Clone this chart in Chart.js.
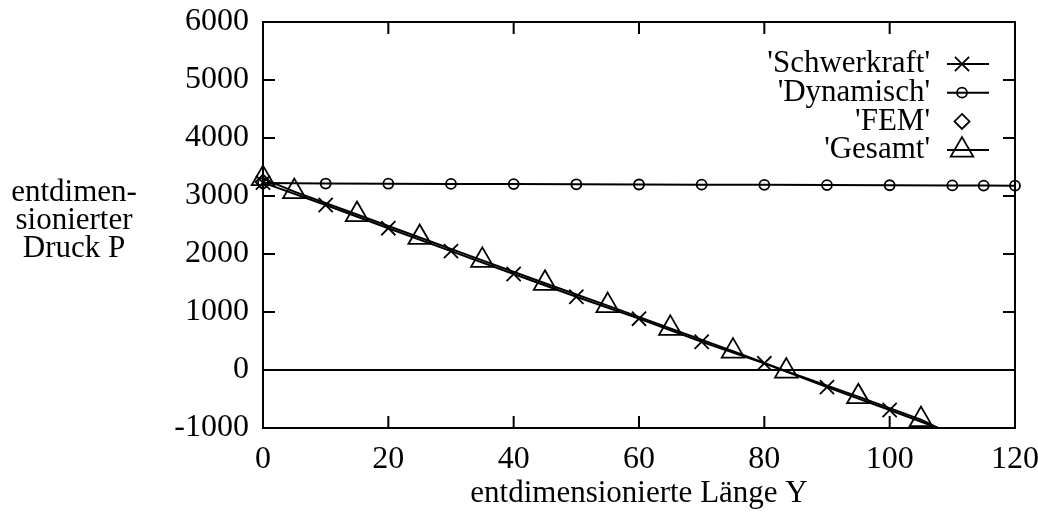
<!DOCTYPE html>
<html>
<head>
<meta charset="utf-8">
<script src="https://cdn.jsdelivr.net/npm/chart.js@4.4.1/dist/chart.umd.min.js"></script>
<style>
  html, body { margin: 0; padding: 0; background: #fff; }
  #wrap { width: 1038px; height: 518px; }
</style>
</head>
<body>
<div id="wrap"><canvas id="druck" width="1038" height="518"></canvas></div>
<script>
const serif = '"Liberation Serif", "DejaVu Serif", serif';

// axis ranges
const xRange = [0, 120];
const yRange = [-1000, 6000];
const xStep = 20;
const yStep = 1000;

// 'Schwerkraft' (last point = where the line leaves the frame)
const schwerX = [0, 10, 20, 30, 40, 50, 60, 70, 80, 90, 100, 107.7];
const schwerP = [3230, 2845, 2445, 2050, 1655, 1262, 885, 488, 115, -295, -690, -1000];

// 'Dynamisch'
const dynX = [0, 10, 20, 30, 40, 50, 60, 70, 80, 90, 100, 110, 115, 120];
const dynP = [3222, 3215, 3212, 3208, 3205, 3202, 3198, 3195, 3192, 3188, 3185, 3182, 3180, 3178];

// 'FEM'
const femX = [0];
const femP = [3240];

// 'Gesamt'
const gesX = [0, 5, 15, 25, 35, 45, 55, 65, 75, 83.5, 95, 105, 107.7];
const gesP = [3300, 3075, 2680, 2285, 1890, 1495, 1110, 718, 325, -20, -460, -855, -1000];

const yLabelLines = ['entdimen-', 'sionierter', 'Druck P'];
const xLabel = 'entdimensionierte Länge Y';

function pairs(xs, ys) {
  return xs.map((x, i) => ({ x: x, y: ys[i] }));
}

// no marker where a line only runs out to the frame edge
function radiusAbove(r) {
  return ctx => (ctx.raw && ctx.raw.y <= yRange[0]) ? 0 : r;
}

const series = [
  { label: "'Schwerkraft'", data: pairs(schwerX, schwerP), pointStyle: 'crossRot', pointRadius: radiusAbove(10), showLine: true },
  { label: "'Dynamisch'", data: pairs(dynX, dynP), pointStyle: 'circle', pointRadius: 5, showLine: true },
  { label: "'FEM'", data: pairs(femX, femP), pointStyle: 'rectRot', pointRadius: 7.5, showLine: false },
  { label: "'Gesamt'", data: pairs(gesX, gesP), pointStyle: 'triangle', pointRadius: radiusAbove(13), showLine: true }
];

// own marker drawing for the key
function drawMarker(ctx, style, r, x, y) {
  ctx.beginPath();
  if (style === 'crossRot') {
    const o = Math.SQRT1_2 * r;
    ctx.moveTo(x - o, y - o); ctx.lineTo(x + o, y + o);
    ctx.moveTo(x - o, y + o); ctx.lineTo(x + o, y - o);
  } else if (style === 'circle') {
    ctx.arc(x, y, r, 0, Math.PI * 2);
  } else if (style === 'rectRot') {
    ctx.moveTo(x, y - r); ctx.lineTo(x + r, y); ctx.lineTo(x, y + r); ctx.lineTo(x - r, y); ctx.closePath();
  } else if (style === 'triangle') {
    ctx.moveTo(x, y - r);
    ctx.lineTo(x + Math.sin(Math.PI * 2 / 3) * r, y + r / 2);
    ctx.lineTo(x - Math.sin(Math.PI * 2 / 3) * r, y + r / 2);
    ctx.closePath();
  }
  ctx.stroke();
}

// frame with inward ticks on all four sides, plus key and left label
const gnuFrame = {
  id: 'gnuFrame',
  beforeDatasetsDraw(chart) {
    const { ctx, chartArea: a, scales } = chart;
    const t = 12;
    ctx.save();
    ctx.strokeStyle = '#000';
    ctx.lineWidth = 2;
    ctx.strokeRect(a.left, a.top, a.right - a.left, a.bottom - a.top);
    ctx.beginPath();
    scales.x.ticks.forEach(tk => {
      const px = scales.x.getPixelForValue(tk.value);
      ctx.moveTo(px, a.bottom); ctx.lineTo(px, a.bottom - t);
      ctx.moveTo(px, a.top); ctx.lineTo(px, a.top + t);
    });
    scales.y.ticks.forEach(tk => {
      const py = scales.y.getPixelForValue(tk.value);
      ctx.moveTo(a.left, py); ctx.lineTo(a.left + t, py);
      ctx.moveTo(a.right, py); ctx.lineTo(a.right - t, py);
    });
    ctx.stroke();
    ctx.restore();
  },
  afterDraw(chart) {
    const { ctx } = chart;
    ctx.save();
    ctx.fillStyle = '#000';
    ctx.strokeStyle = '#000';
    ctx.font = '31px ' + serif;
    ctx.textBaseline = 'middle';

    // y label, three centred lines
    ctx.textAlign = 'center';
    yLabelLines.forEach((s, i) => ctx.fillText(s, 74, 193 + i * 28));

    // key: right aligned text, sample line, marker
    ctx.textAlign = 'right';
    chart.data.datasets.forEach((ds, i) => {
      const y = 64 + i * 28.7;
      ctx.fillText(ds.label, 930, y);
      ctx.lineWidth = 2;
      if (ds.showLine) {
        ctx.beginPath();
        ctx.moveTo(947, y); ctx.lineTo(989, y);
        ctx.stroke();
      }
      const r = typeof ds.pointRadius === 'function' ? ds.pointRadius({ raw: { y: 0 } }) : ds.pointRadius;
      ctx.lineWidth = 1.8;
      drawMarker(ctx, ds.pointStyle, r, 962, y);
    });
    ctx.restore();
  }
};

new Chart(document.getElementById('druck'), {
  type: 'scatter',
  data: {
    datasets: series.map(s => Object.assign({
      borderColor: '#000',
      backgroundColor: 'rgba(0,0,0,0)',
      pointBorderColor: '#000',
      pointBackgroundColor: 'rgba(0,0,0,0)',
      borderWidth: 2,
      pointBorderWidth: 1.8,
      tension: 0,
      clip: false
    }, s))
  },
  options: {
    responsive: false,
    animation: false,
    devicePixelRatio: 1,
    layout: { padding: { left: 0, right: 23, top: 22, bottom: 0 } },
    plugins: {
      legend: { display: false },
      tooltip: { enabled: false }
    },
    scales: {
      x: {
        type: 'linear',
        min: xRange[0],
        max: xRange[1],
        afterFit: s => { s.height = 90; s.paddingLeft = 0; s.paddingRight = 0; },
        border: { display: false },
        grid: { display: false, drawTicks: false },
        ticks: { stepSize: xStep, color: '#000', padding: 12, font: { family: serif, size: 32 }, callback: v => String(v) },
        title: { display: true, text: xLabel, color: '#000', padding: { top: 0, bottom: 6 }, font: { family: serif, size: 31 } }
      },
      y: {
        type: 'linear',
        min: yRange[0],
        max: yRange[1],
        afterFit: s => { s.width = 263; s.paddingTop = 0; s.paddingBottom = 0; },
        border: { display: false },
        grid: {
          drawTicks: false,
          lineWidth: 2,
          // only the zero axis is drawn across the plot
          color: c => (c.tick && c.tick.value === 0) ? '#000' : 'rgba(0,0,0,0)'
        },
        ticks: { stepSize: yStep, color: '#000', padding: 14, font: { family: serif, size: 32 }, callback: v => String(v) }
      }
    }
  },
  plugins: [gnuFrame]
});
</script>
</body>
</html>
